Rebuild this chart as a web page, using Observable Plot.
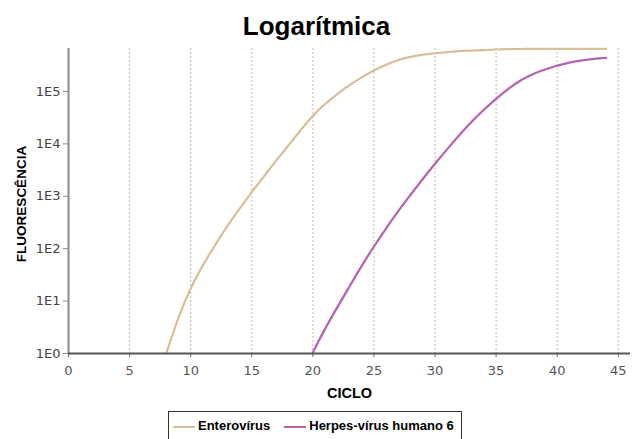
<!DOCTYPE html>
<html><head><meta charset="utf-8">
<script src="https://cdn.jsdelivr.net/npm/d3@7"></script>
<script src="https://cdn.jsdelivr.net/npm/@observablehq/plot@0.6"></script>
<style>
html,body{margin:0;padding:0;background:#fff;}
#wrap{position:relative;width:633px;height:439px;overflow:hidden;font-family:"Liberation Sans",Arial,sans-serif;}
#title{position:absolute;top:13px;left:0;width:633px;text-align:center;font-weight:bold;font-size:26px;line-height:26px;color:#000;}
#chart{position:absolute;top:40px;left:0;}
#legend{position:absolute;left:168px;top:411px;width:294px;height:34px;border:1.5px solid #333;box-sizing:border-box;display:flex;align-items:flex-start;padding:6px 0 0 4px;font-weight:bold;font-size:13px;color:#000;white-space:nowrap;}
#legend .sw{display:inline-block;width:22px;height:2px;margin-top:8px;margin-right:3px;}
#legend .item{display:flex;margin-right:14px;}
</style>
</head><body>
<div id="wrap">
  <div id="title"></div>
  <div id="chart"></div>
  <div id="legend"></div>
</div>
<script>
const titleText = "Logarítmica";
const xLabel = "CICLO";
const yLabel = "FLUORESCÊNCIA";
const seriesNames = ["Enterovírus", "Herpes-vírus humano 6"];
const seriesColors = ["#d9bd98", "#b562b1"];

const xTicks = [0, 5, 10, 15, 20, 25, 30, 35, 40, 45];
const yTicks = [1, 10, 100, 1000, 10000, 100000];
const yTickLabels = ["1E0", "1E1", "1E2", "1E3", "1E4", "1E5"];

const enteroCycles = [8, 9, 10, 11, 12, 13, 14, 15, 16, 17, 18, 19, 20, 21, 22, 23, 24, 25, 26, 27, 28, 29, 30, 31, 32, 33, 34, 35, 36, 37, 38, 39, 40, 41, 42, 43, 44];
const enteroValues = [1, 4.8, 17.4, 48, 117, 270, 575, 1200, 2400, 4800, 9300, 18200, 34000, 57500, 89000, 132000, 186000, 251000, 324000, 398000, 457000, 501000, 537000, 562000, 589000, 603000, 617000, 631000, 640000, 645000, 648000, 650000, 650000, 650000, 650000, 650000, 650000];

const hhv6Cycles = [20, 21, 22, 23, 24, 25, 26, 27, 28, 29, 30, 31, 32, 33, 34, 35, 36, 37, 38, 39, 40, 41, 42, 43, 44];
const hhv6Values = [1.05, 2.95, 7.6, 19, 47, 110, 245, 525, 1070, 2140, 4170, 7940, 14800, 26300, 44700, 72400, 112000, 162000, 214000, 263000, 309000, 355000, 389000, 417000, 437000];

const data = [
  ...enteroCycles.map((c, i) => ({cycle: c, value: enteroValues[i], series: seriesNames[0]})),
  ...hhv6Cycles.map((c, i) => ({cycle: c, value: hhv6Values[i], series: seriesNames[1]}))
];

document.getElementById("title").textContent = titleText;

const chart = Plot.plot({
  width: 633,
  height: 370,
  marginTop: 8,
  marginBottom: 57,
  marginLeft: 68,
  marginRight: 3,
  style: {fontFamily: "'DejaVu Sans', sans-serif", background: "#fff"},
  x: {domain: [0, 46]},
  y: {type: "log", domain: [1, 660000]},
  color: {domain: seriesNames, range: seriesColors},
  marks: [
    Plot.gridX(xTicks.filter(d => d > 0), {stroke: "#bdbdbd", strokeOpacity: 1, strokeDasharray: "2,2", strokeWidth: 1}),
    Plot.axisY(yTicks, {tickFormat: d => yTickLabels[yTicks.indexOf(d)], tickSize: 5, tickPadding: 3, stroke: "#888", fill: "#444", fontSize: 13, label: null}),
    Plot.axisX(xTicks, {tickSize: 4, tickPadding: 8, stroke: "#666", fill: "#555", fontSize: 13, label: null}),
    Plot.ruleX([0], {stroke: "#8a8a8a", strokeWidth: 2, y1: 1, y2: 660000}),
    Plot.line(data, {x: "cycle", y: "value", z: "series", stroke: "series", strokeWidth: 2.2, curve: "monotone-x"}),
    Plot.ruleY([1], {stroke: "#555", strokeWidth: 2}),
    Plot.text([xLabel], {frameAnchor: "bottom", lineAnchor: "bottom", dy: 44, fontWeight: "bold", fontSize: 14.5, fontFamily: "'Liberation Sans', Arial, sans-serif", fill: "#000"}),
    Plot.text([yLabel], {frameAnchor: "left", textAnchor: "middle", rotate: -90, lineAnchor: "bottom", dx: -43, dy: 3, fontWeight: "bold", fontSize: 13.5, fontFamily: "'Liberation Sans', Arial, sans-serif", fill: "#000"})
  ]
});
document.getElementById("chart").appendChild(chart);

const legend = document.getElementById("legend");
seriesNames.forEach((name, i) => {
  const item = document.createElement("div");
  item.className = "item";
  const sw = document.createElement("span");
  sw.className = "sw";
  sw.style.background = seriesColors[i];
  const label = document.createElement("span");
  label.textContent = name;
  item.appendChild(sw);
  item.appendChild(label);
  legend.appendChild(item);
});
</script>
</body></html>
